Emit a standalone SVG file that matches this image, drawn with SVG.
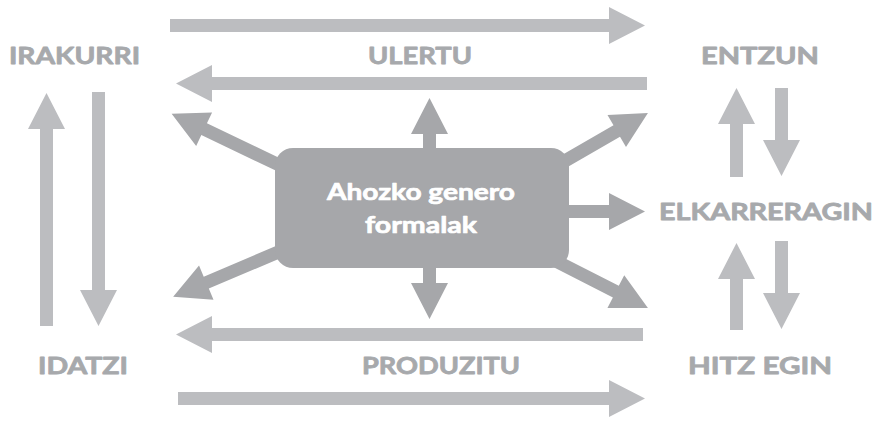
<svg xmlns="http://www.w3.org/2000/svg" width="883" height="421" viewBox="0 0 883 421">
<style>
.la{fill:#bcbdc0}
.da{fill:#a6a7aa}
.lbl{font-family:Lato,"Open Sans","Liberation Sans",sans-serif;font-weight:700;font-size:23.5px;fill:#a7a9ac;stroke:#a7a9ac;stroke-width:0.8px;stroke-linejoin:round}
.ctr{font-family:Lato,"Open Sans","Liberation Sans",sans-serif;font-weight:700;font-size:23.5px;fill:#ffffff;stroke:#ffffff;stroke-width:0.7px;stroke-linejoin:round;text-anchor:middle}
</style>
<rect width="883" height="421" fill="#ffffff"/>
<g id="connectors">
<path class="la" transform="translate(170,25.5)" d="M0,-6.5H439V-18.5L475,0L439,18.5V6.5H0Z"/>
<path class="la" transform="translate(647,83.5) rotate(180)" d="M0,-6.5H435V-18.5L471,0L435,18.5V6.5H0Z"/>
<path class="la" transform="translate(643,334.5) rotate(180)" d="M0,-6.5H431V-18.5L467,0L431,18.5V6.5H0Z"/>
<path class="la" transform="translate(178,398.5)" d="M0,-6.5H431V-18.5L467,0L431,18.5V6.5H0Z"/>
<path class="la" transform="translate(46.5,326) rotate(-90)" d="M0,-6.5H197V-18.5L233,0L197,18.5V6.5H0Z"/>
<path class="la" transform="translate(98.5,92) rotate(90)" d="M0,-6.5H198V-18.5L234,0L198,18.5V6.5H0Z"/>
<path class="la" transform="translate(736.5,177) rotate(-90)" d="M0,-6.5H53V-18.5L89,0L53,18.5V6.5H0Z"/>
<path class="la" transform="translate(781.5,88) rotate(90)" d="M0,-6.5H52V-18.5L88,0L52,18.5V6.5H0Z"/>
<path class="la" transform="translate(736.5,330) rotate(-90)" d="M0,-6.5H51V-18.5L87,0L51,18.5V6.5H0Z"/>
<path class="la" transform="translate(781.5,241) rotate(90)" d="M0,-6.5H52V-18.5L88,0L52,18.5V6.5H0Z"/>
<path class="da" transform="translate(429.5,150) rotate(-90)" d="M0,-6.5H16V-18.5L52,0L16,18.5V6.5H0Z"/>
<path class="da" transform="translate(429.5,266) rotate(90)" d="M0,-6.5H17V-18.5L53,0L17,18.5V6.5H0Z"/>
<path class="da" transform="translate(567,211.5)" d="M0,-6.5H42V-18.5L78,0L42,18.5V6.5H0Z"/>
<path class="da" transform="translate(298,174) rotate(205.5)" d="M0,-6.5H104V-18.5L140,0L104,18.5V6.5H0Z"/>
<path class="da" transform="translate(544,173) rotate(-30)" d="M0,-6.5H84V-18.5L120,0L84,18.5V6.5H0Z"/>
<path class="da" transform="translate(302,242) rotate(157)" d="M0,-6.5H104V-18.5L140,0L104,18.5V6.5H0Z"/>
<path class="da" transform="translate(541,253.5) rotate(27)" d="M0,-6.5H84V-18.5L120,0L84,18.5V6.5H0Z"/>
</g>
<g id="center">
<rect x="275" y="148" width="294" height="120" rx="18" fill="#a6a7aa"/>
<text class="ctr" x="421" y="200" textLength="188" lengthAdjust="spacingAndGlyphs">Ahozko genero</text>
<text class="ctr" x="421" y="233" textLength="112" lengthAdjust="spacingAndGlyphs">formalak</text>
</g>
<g id="irakurri"><text class="lbl" x="9" y="64" textLength="131" lengthAdjust="spacingAndGlyphs">IRAKURRI</text></g>
<g id="ulertu"><text class="lbl" x="368" y="64" textLength="104" lengthAdjust="spacingAndGlyphs">ULERTU</text></g>
<g id="entzun"><text class="lbl" x="701" y="64" textLength="118" lengthAdjust="spacingAndGlyphs">ENTZUN</text></g>
<g id="elkarreragin"><text class="lbl" x="659" y="220" textLength="214" lengthAdjust="spacingAndGlyphs">ELKARRERAGIN</text></g>
<g id="idatzi"><text class="lbl" x="38" y="374" textLength="90" lengthAdjust="spacingAndGlyphs">IDATZI</text></g>
<g id="produzitu"><text class="lbl" x="362" y="374" textLength="158" lengthAdjust="spacingAndGlyphs">PRODUZITU</text></g>
<g id="hitzegin"><text class="lbl" x="688" y="374" textLength="144" lengthAdjust="spacingAndGlyphs">HITZ EGIN</text></g>
</svg>
